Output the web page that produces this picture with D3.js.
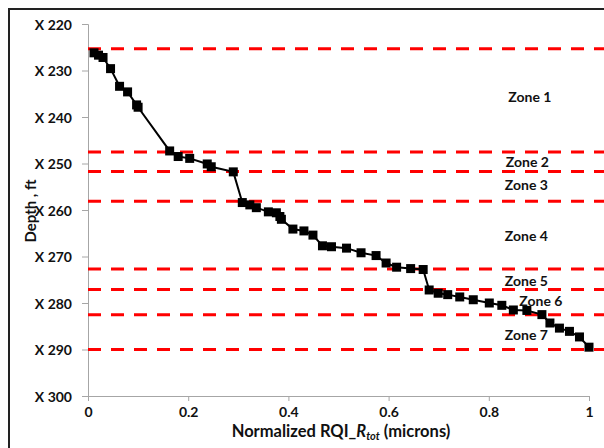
<!DOCTYPE html>
<html>
<head>
<meta charset="utf-8">
<script src="https://cdn.jsdelivr.net/npm/d3@7"></script>
<style>
  body { margin: 0; background: #fff; }
  text { font-family: Lato, "Open Sans", sans-serif; font-weight: bold; fill: #111; }
</style>
</head>
<body>
<div id="chart"></div>
<script>
// normalized RQI values and matching depths (ft)
let rqi = [0.012, 0.021, 0.03, 0.045, 0.063, 0.079, 0.097, 0.1, 0.163, 0.18, 0.203,
  0.238, 0.246, 0.29, 0.308, 0.323, 0.336, 0.36, 0.376, 0.383, 0.386, 0.409, 0.431,
  0.449, 0.468, 0.486, 0.516, 0.545, 0.575, 0.595, 0.616, 0.644, 0.669, 0.681, 0.699,
  0.718, 0.742, 0.769, 0.801, 0.826, 0.849, 0.876, 0.906, 0.922, 0.941, 0.961, 0.981, 1.0]
let depth = [226.2, 226.7, 227.2, 229.6, 233.4, 234.6, 237.4, 237.9, 247.3, 248.5, 248.9,
  250.1, 250.7, 251.8, 258.4, 258.9, 259.5, 260.4, 260.6, 261.4, 262.0, 264.1, 264.5,
  265.4, 267.7, 267.9, 268.2, 269.2, 269.8, 271.4, 272.3, 272.6, 272.8, 277.2, 277.9,
  278.2, 278.7, 279.3, 280.0, 280.5, 281.5, 281.6, 282.5, 284.3, 285.4, 286.1, 287.3, 289.5]

// zone boundaries (ft)
let zoneTops = [225.3, 247.5, 251.7, 258.1, 272.7, 277.1, 282.5, 290.0]
let zoneNames = ["Zone 1", "Zone 2", "Zone 3", "Zone 4", "Zone 5", "Zone 6", "Zone 7"]
let zoneLabelDepth = [235.8, 249.7, 254.6, 265.6, 275.2, 279.5, 286.9]
let zoneLabelX = [0.882, 0.877, 0.875, 0.875, 0.875, 0.904, 0.875]

let xTicks = [0, 0.2, 0.4, 0.6, 0.8, 1]
let yTicks = [220, 230, 240, 250, 260, 270, 280, 290, 300]

let width = 604
let height = 448
let margin = {top: 24, bottom: 52, left: 88, right: 15}

let svg = d3.select("#chart").append("svg")
    .attr("width", width)
    .attr("height", height)

// chart frame
svg.append("rect")
    .attr("x", 9).attr("y", 9)
    .attr("width", 700).attr("height", 600)
    .attr("fill", "none")
    .attr("stroke", "#222")
    .attr("stroke-width", 2)

let xScale = d3.scaleLinear().domain([0, 1]).range([margin.left, 589])
let yScale = d3.scaleLinear().domain([220, 300]).range([margin.top, 396])

let g = svg.append("g")

let yAxis = g.append("g")
    .attr("transform", "translate(" + xScale(0) + ",0)")
    .call(d3.axisLeft(yScale).tickValues(yTicks).tickSize(6).tickPadding(10)
        .tickFormat(d => "X " + d))
yAxis.select(".domain").attr("stroke", "#a6a6a6")
yAxis.selectAll(".tick line").attr("stroke", "#a6a6a6")
yAxis.selectAll("text").style("font-size", "14px").attr("dy", "0.36em")

let xAxis = g.append("g")
    .attr("transform", "translate(0," + yScale(300) + ")")
    .call(d3.axisBottom(xScale).tickValues(xTicks).tickSize(5).tickPadding(6)
        .tickFormat(d => d === 0 || d === 1 ? d : d3.format(".1f")(d)))
xAxis.select(".domain").attr("stroke", "#a6a6a6")
xAxis.selectAll(".tick line").attr("stroke", "#a6a6a6")
xAxis.selectAll("text").style("font-size", "14px")

// zone boundaries
g.selectAll(".zone")
    .data(zoneTops)
    .enter().append("line")
    .attr("class", "zone")
    .attr("x1", xScale(0))
    .attr("x2", width)
    .attr("y1", d => yScale(d))
    .attr("y2", d => yScale(d))
    .attr("stroke", "#ff0000")
    .attr("stroke-width", 3)
    .attr("stroke-dasharray", "13,10")

g.selectAll(".zlabel")
    .data(zoneNames)
    .enter().append("text")
    .attr("class", "zlabel")
    .attr("x", (d, i) => xScale(zoneLabelX[i]))
    .attr("y", (d, i) => yScale(zoneLabelDepth[i]))
    .attr("dy", "0.35em")
    .style("text-anchor", "middle")
    .style("font-size", "14px")
    .text(d => d)

let pts = rqi.map((r, i) => ({x: r, d: depth[i]}))

let path = d3.line()
    .x(d => xScale(d.x))
    .y(d => yScale(d.d))

g.append("path")
    .datum(pts)
    .attr("d", path)
    .attr("fill", "none")
    .attr("stroke", "#000")
    .attr("stroke-width", 2)

g.selectAll(".pt")
    .data(pts)
    .enter().append("rect")
    .attr("class", "pt")
    .attr("x", d => xScale(d.x) - 4.5)
    .attr("y", d => yScale(d.d) - 4.5)
    .attr("width", 9)
    .attr("height", 9)
    .attr("fill", "#000")

// axis titles
svg.append("text")
    .attr("transform", "translate(36,211) rotate(-90)")
    .style("text-anchor", "middle")
    .style("font-size", "15px")
    .text("Depth , ft")

let xt = svg.append("text")
    .attr("x", 341)
    .attr("y", 437)
    .style("text-anchor", "middle")
    .style("font-size", "16.5px")
xt.append("tspan").text("Normalized RQI_")
xt.append("tspan").style("font-style", "italic").text("R")
xt.append("tspan").style("font-style", "italic").style("font-size", "11px").attr("dy", 3).text("tot")
xt.append("tspan").attr("dy", -3).text(" (microns)")
</script>
</body>
</html>
